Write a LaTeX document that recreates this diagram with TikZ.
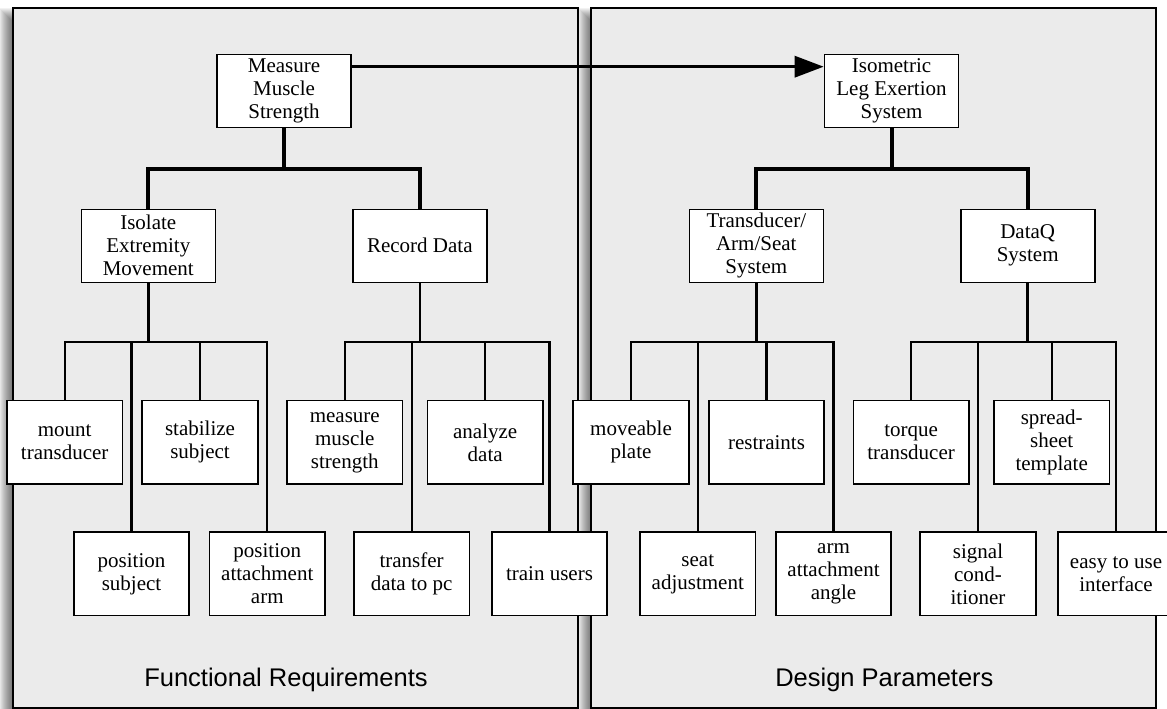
\documentclass[tikz,border=0pt]{standalone}
\usepackage{fontspec}
\setmainfont{Liberation Serif}
\setsansfont{Liberation Sans}
\usetikzlibrary{arrows.meta,calc}
\definecolor{panelgray}{HTML}{EBEBEB}
\pgfdeclarelayer{bg}
\pgfdeclarelayer{mid}
\pgfsetlayers{bg,mid,main}
\begin{document}
\begin{tikzpicture}[x=1pt,y=-1pt,
  box/.style={draw=black, line width=1.6pt, fill=white, align=center, inner sep=0pt, font=\fontsize{21}{23}\selectfont},
  topbox/.style={box, minimum width=134pt, minimum height=73pt},
  leaf/.style={box, minimum width=115.5pt, minimum height=83.5pt},
  panel/.style={draw=black, line width=1.6pt, fill=panelgray},
  bigline/.style={line width=4pt},
  midline/.style={line width=2.6pt},
  smallline/.style={line width=2.1pt},
  lbl/.style={font=\sffamily\fontsize{25.5}{28}\selectfont, anchor=base}
]
\useasboundingbox (0,0) rectangle (1167,709);
\begin{pgfonlayer}{bg}
% soft shadows
\foreach \i in {-6,...,6}{
  \fill[black, opacity=0.052] (5-\i,14-\i) rectangle (570+\i,720+\i);
  \fill[black, opacity=0.052] (584-\i,14-\i) rectangle (1149+\i,720+\i);
}
% panels
\path[panel] (13,8) rectangle (578,708);
\path[panel] (591,8) rectangle (1156,708);
\end{pgfonlayer}
\node[lbl] (fr) at (286,686.7) {Functional Requirements};
\node[lbl] (dp) at (884.4,686.7) {Design Parameters};

% top-level boxes
\node[topbox] (mms) at (284,91) {Measure\\Muscle\\Strength};
\node[topbox] (iles) at (891.5,91) {Isometric\\Leg Exertion\\System};
% second level
\node[topbox] (iem) at (148.3,245.8) {Isolate\\Extremity\\Movement};
\node[topbox] (rd) at (419.8,245.8) {Record Data};
\node[topbox] (tas) at (756.3,245.8) {Transducer/\\Arm/Seat\\System};
\node[topbox] (dq) at (1027.7,245.8) {DataQ\\System};

% bus coordinates
\coordinate (b1) at (284,169);
\coordinate (b2) at (891.5,169);
\coordinate (c1) at (148.3,342);
\coordinate (c2) at (419.8,342);
\coordinate (c3) at (756.3,342);
\coordinate (c4) at (1027.7,342);

% leaves
\def\ty{442.4}
\def\by{573.9}
\node[leaf] (mt)  at (64.7,\ty) {mount\\transducer};
\node[leaf] (ps)  at (131.5,\by) {position\\subject};
\node[leaf] (ss)  at (200,\ty) {stabilize\\subject};
\node[leaf] (paa) at (267.3,\by) {position\\attachment\\arm};
\node[leaf] (mms2) at (344.8,\ty) {measure\\muscle\\strength};
\node[leaf] (tdp) at (411.6,\by) {transfer\\data to pc};
\node[leaf] (ad)  at (485.2,\ty) {analyze\\data};
\node[leaf] (tu)  at (549.5,\by) {train users};
\node[leaf] (mp)  at (631,\ty) {moveable\\plate};
\node[leaf] (sa)  at (697.8,\by) {seat\\adjustment};
\node[leaf] (rs)  at (766.5,\ty) {restraints};
\node[leaf] (aaa) at (833.5,\by) {arm\\attachment\\angle};
\node[leaf] (tt)  at (911.1,\ty) {torque\\transducer};
\node[leaf] (sc)  at (978,\by) {signal\\cond-\\itioner};
\node[leaf] (st)  at (1051.7,\ty) {spread-\\sheet\\template};
\node[leaf] (eui) at (1116,\by) {easy to use\\interface};

\begin{pgfonlayer}{mid}
% top arrow
\draw[line width=3.3pt, line cap=round, -{Triangle[length=29pt,width=21pt]}]
  ($(mms.north east)+(-1,13)$) -- ($(iles.north west)+(0,13)$);
% first level trees
\draw[bigline] (mms.south) -- (b1);
\draw[bigline] (iem.north) |- (b1) -| (rd.north);
\draw[bigline] (iles.south) -- (b2);
\draw[bigline] (tas.north) |- (b2) -| (dq.north);
% second level trees
\draw[midline] (iem.south) -- (c1);
\draw[smallline] (mt.north) |- (c1) -| (paa.north);
\draw[smallline] (ps.north) -- (ps.north |- c1);
\draw[smallline] (ss.north) -- (ss.north |- c1);
\draw[midline] (rd.south) -- (c2);
\draw[smallline] (mms2.north) |- (c2) -| (tu.north);
\draw[smallline] (tdp.north) -- (tdp.north |- c2);
\draw[smallline] (ad.north) -- (ad.north |- c2);
\draw[midline] (tas.south) -- (c3);
\draw[smallline] (mp.north) |- (c3) -| (aaa.north);
\draw[smallline] (sa.north) -- (sa.north |- c3);
\draw[smallline] (rs.north) -- (rs.north |- c3);
\draw[midline] (dq.south) -- (c4);
\draw[smallline] (tt.north) |- (c4) -| (eui.north);
\draw[smallline] (sc.north) -- (sc.north |- c4);
\draw[smallline] (st.north) -- (st.north |- c4);
\end{pgfonlayer}
\end{tikzpicture}
\end{document}
